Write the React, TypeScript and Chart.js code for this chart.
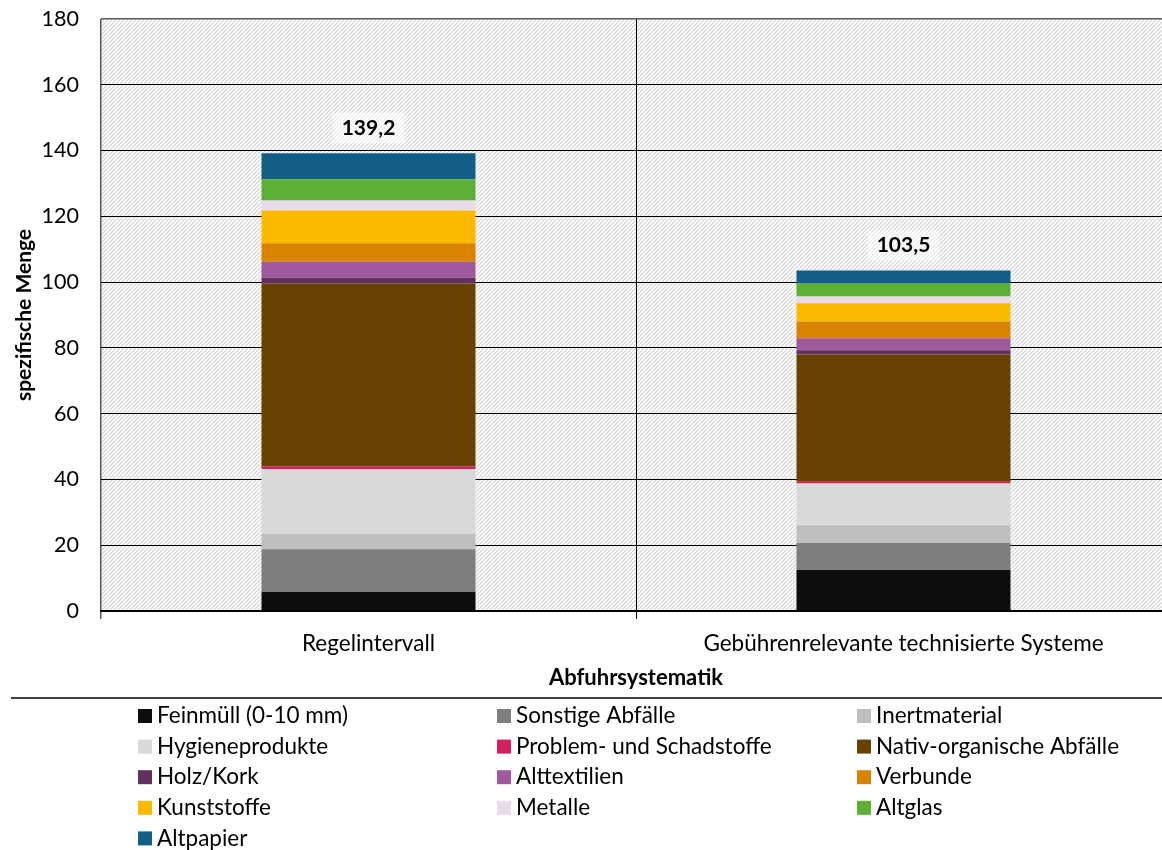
import React, { useEffect, useRef } from 'react';
import { Chart, registerables } from 'chart.js';

Chart.register(...registerables);

const categories = ['Regelintervall', 'Gebührenrelevante technisierte Systeme'];
const seriesNames = [
  'Feinmüll (0-10 mm)', 'Sonstige Abfälle', 'Inertmaterial',
  'Hygieneprodukte', 'Problem- und Schadstoffe', 'Nativ-organische Abfälle',
  'Holz/Kork', 'Alttextilien', 'Verbunde',
  'Kunststoffe', 'Metalle', 'Altglas',
  'Altpapier',
];
const feinmuell = [5.8, 12.5];
const sonstige = [13.0, 8.2];
const inertmaterial = [4.7, 5.4];
const hygieneprodukte = [19.7, 12.7];
const problemstoffe = [0.7, 0.5];
const nativOrganisch = [55.7, 38.7];
const holzKork = [1.7, 1.3];
const alttextilien = [4.9, 3.6];
const verbunde = [5.6, 5.1];
const kunststoffe = [10.0, 5.6];
const metalle = [3.0, 2.0];
const altglas = [6.5, 4.1];
const altpapier = [7.9, 3.8];
const totals = [139.2, 103.5];
const seriesColors = [
  '#0d0d0d', '#7f7f7f', '#bfbfbf',
  '#d9d9d9', '#d11f5d', '#684100',
  '#60305f', '#9e5a9c', '#d88400',
  '#fbba00', '#e9dcea', '#5daf36',
  '#135e86',
];
const yMin = 0;
const yMax = 180;
const yStep = 20;
const yTitle = 'spezifische Menge';
const xTitle = 'Abfuhrsystematik';

const FONT = 'Lato';

const hatchPlugin = {
  id: 'hatch',
  beforeDraw(chart: any) {
    const { ctx, chartArea } = chart;
    const pc = document.createElement('canvas');
    pc.width = 4;
    pc.height = 4;
    const p = pc.getContext('2d')!;
    p.fillStyle = '#ffffff';
    p.fillRect(0, 0, 4, 4);
    p.strokeStyle = '#d2d2d2';
    p.lineWidth = 1.2;
    p.beginPath();
    p.moveTo(0, 4); p.lineTo(4, 0);
    p.moveTo(-1, 1); p.lineTo(1, -1);
    p.moveTo(3, 5); p.lineTo(5, 3);
    p.stroke();
    const pattern = ctx.createPattern(pc, 'repeat');
    ctx.save();
    ctx.fillStyle = pattern;
    ctx.fillRect(chartArea.left, chartArea.top, chartArea.right - chartArea.left, chartArea.bottom - chartArea.top);
    ctx.restore();
  },
};

const totalsPlugin = {
  id: 'totals',
  afterDatasetsDraw(chart: any) {
    const { ctx } = chart;
    const yScale = chart.scales.y;
    const lastMeta = chart.getDatasetMeta(chart.data.datasets.length - 1);
    ctx.save();
    ctx.font = `bold 21px ${FONT}`;
    ctx.textAlign = 'center';
    ctx.textBaseline = 'middle';
    totals.forEach((t, i) => {
      let sum = 0;
      chart.data.datasets.forEach((ds: any) => { sum += ds.data[i]; });
      const x = lastMeta.data[i].x;
      const y = yScale.getPixelForValue(sum) - 25;
      const text = t.toFixed(1).replace('.', ',');
      const w = ctx.measureText(text).width;
      ctx.fillStyle = 'rgba(255,255,255,0.5)';
      ctx.fillRect(x - w / 2 - 9, y - 15, w + 18, 30);
      ctx.fillStyle = '#000000';
      ctx.fillText(text, x, y);
    });
    ctx.restore();
  },
};

const legendPlugin = {
  id: 'customLegend',
  afterDraw(chart: any) {
    const { ctx } = chart;
    ctx.save();
    ctx.strokeStyle = '#000000';
    ctx.lineWidth = 1.5;
    ctx.beginPath();
    ctx.moveTo(11, 698);
    ctx.lineTo(chart.width, 698);
    ctx.stroke();
    const colX = [138, 497, 857];
    ctx.font = `22.5px ${FONT}`;
    ctx.textBaseline = 'middle';
    ctx.textAlign = 'left';
    chart.data.datasets.forEach((ds: any, i: number) => {
      const col = i % 3;
      const row = Math.floor(i / 3);
      const x = colX[col];
      const y = 716 + row * 30.6;
      ctx.fillStyle = ds.backgroundColor;
      ctx.fillRect(x, y - 7, 14, 14);
      ctx.fillStyle = '#000000';
      ctx.fillText(ds.label, x + 19, y);
    });
    ctx.restore();
  },
};

export default function App() {
  const canvasRef = useRef<HTMLCanvasElement | null>(null);

  useEffect(() => {
    const canvas = canvasRef.current;
    if (!canvas) return;
    const seriesValues = [
      feinmuell, sonstige, inertmaterial, hygieneprodukte, problemstoffe,
      nativOrganisch, holzKork, alttextilien, verbunde, kunststoffe,
      metalle, altglas, altpapier,
    ];
    const chart = new Chart(canvas, {
      type: 'bar',
      data: {
        labels: categories,
        datasets: seriesValues.map((vals, i) => ({
          label: seriesNames[i],
          data: vals,
          backgroundColor: seriesColors[i],
          borderWidth: 0,
          categoryPercentage: 1,
          barPercentage: 0.4,
        })),
      },
      options: {
        responsive: false,
        animation: false,
        layout: { padding: { left: 0, top: 19, right: 9, bottom: 152 } },
        plugins: {
          legend: { display: false },
          tooltip: { enabled: false },
          title: { display: false },
        },
        scales: {
          x: {
            stacked: true,
            offset: true,
            grid: {
              offset: true,
              drawOnChartArea: true,
              drawTicks: true,
              tickLength: 8,
              color: (c: any) => (c.index === 0 ? '#595959' : '#000000'),
              lineWidth: (c: any) => (c.index === 0 ? 1.5 : 1),
            },
            border: { display: true, color: '#000000', width: 2 },
            ticks: {
              color: '#000000',
              font: { family: FONT, size: 22.5 },
              padding: 11,
              maxRotation: 0,
            },
            title: {
              display: true,
              text: xTitle,
              color: '#000000',
              font: { family: FONT, size: 22, weight: 'bold' },
              padding: { top: 0, bottom: 7 },
            },
            afterFit: (scale: any) => {
              scale.height = 87;
              scale.paddingLeft = 0;
              scale.paddingRight = 0;
              scale.paddingTop = 0;
              scale.paddingBottom = 0;
            },
          },
          y: {
            stacked: true,
            min: yMin,
            max: yMax,
            ticks: {
              stepSize: yStep,
              color: '#000000',
              font: { family: FONT, size: 21.5 },
              padding: 22,
            },
            grid: {
              drawTicks: false,
              color: (c: any) => {
                if (c.tick && c.tick.value === yMax) return '#595959';
                if (c.tick && c.tick.value === yMin) return 'rgba(0,0,0,0)';
                return '#000000';
              },
              lineWidth: (c: any) => (c.tick && c.tick.value === yMax ? 1.5 : 1),
            },
            border: { display: false },
            title: {
              display: true,
              text: yTitle,
              color: '#000000',
              font: { family: FONT, size: 21, weight: 'bold' },
              padding: { top: 12, bottom: 0 },
            },
            afterFit: (scale: any) => {
              scale.width = 101;
              scale.paddingTop = 0;
              scale.paddingBottom = 0;
              scale.paddingLeft = 0;
              scale.paddingRight = 0;
            },
          },
        },
      },
      plugins: [hatchPlugin, totalsPlugin, legendPlugin],
    });
    return () => chart.destroy();
  }, []);

  return (
    <div style={{ position: 'fixed', left: 0, top: 0, width: 1162, height: 850, overflow: 'hidden', background: '#ffffff' }}>
      <canvas ref={canvasRef} width={1180} height={850} style={{ display: 'block', width: 1180, height: 850 }} />
    </div>
  );
}
